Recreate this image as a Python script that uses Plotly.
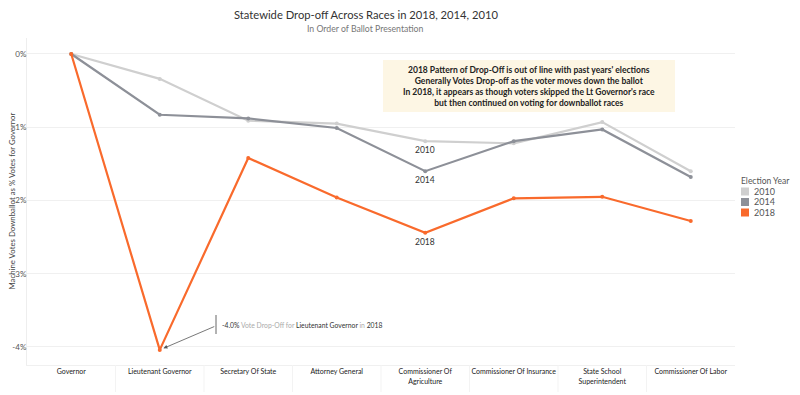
import plotly.graph_objects as go

categories = ["Governor", "Lieutenant Governor", "Secretary Of State", "Attorney General",
              "Commissioner Of<br>Agriculture", "Commissioner Of Insurance",
              "State School<br>Superintendent", "Commissioner Of Labor"]
years = ["2010", "2014", "2018"]
drop_2010 = [0.0, -0.34, -0.91, -0.95, -1.19, -1.22, -0.93, -1.60]
drop_2014 = [0.0, -0.83, -0.88, -1.01, -1.60, -1.19, -1.03, -1.68]
drop_2018 = [0.0, -4.04, -1.42, -1.96, -2.44, -1.97, -1.95, -2.28]
series = {"2010": drop_2010, "2014": drop_2014, "2018": drop_2018}
colors = {"2010": "#cfcfcf", "2014": "#8d9098", "2018": "#f96a2c"}
ytick_vals = [0, -1, -2, -3, -4]
ytick_text = ["0%", "-1%", "-2%", "-3%", "-4%"]

FONT = "Lato"
W, H = 800, 395
OFF = 8  # page offset of the figure in the browser window
# plot area in window pixels: x 27..735, y 38..365
SL, SR, ST, SB = 27, 735, 38, 365
L, T = SL - OFF, ST - OFF
R, B = W - (SR - OFF), H - (SB - OFF)
PW, PH = SR - SL, SB - ST


def px(x):
    return (x - SL) / PW


def py(y):
    return (SB - y) / PH


def note(x, y, text, size, color, xanchor="center", yanchor="middle", **kw):
    fig.add_annotation(xref="paper", yref="paper", x=px(x), y=py(y), text=text,
                       showarrow=False, xanchor=xanchor, yanchor=yanchor,
                       font=dict(size=size, color=color, family=FONT), **kw)


fig = go.Figure()
for y in years:
    fig.add_trace(go.Scatter(
        x=categories, y=series[y], mode="lines+markers", name=y,
        line=dict(color=colors[y], width=2.2), marker=dict(size=4, color=colors[y]),
        showlegend=False))

# labels on the lines at Commissioner of Agriculture
idx = 4
for y in years:
    fig.add_annotation(x=categories[idx], y=series[y][idx], text=y, showarrow=False,
                       xanchor="center", yanchor="middle", yshift=-9,
                       font=dict(size=8.5, color="#333", family=FONT))

# arrow annotation for Lt Governor
lt = series["2018"][1]
fig.add_annotation(x=categories[1], y=lt, text="", showarrow=True, arrowhead=2,
                   arrowsize=1, arrowwidth=0.8, arrowcolor="#555", ax=56, ay=-24,
                   standoff=4)
note(220, 324.5,
     ("<span style='color:#333'>-4.0%</span> "
      "<span style='color:#aaa'>Vote Drop-Off for</span> "
      "<span style='color:#333'>Lieutenant Governor</span> "
      "<span style='color:#aaa'>in</span> "
      "<span style='color:#333'>2018</span>"), 6.8, "#333", xanchor="left")
fig.add_shape(type="line", xref="paper", yref="paper",
              x0=px(216), x1=px(216), y0=py(315), y1=py(334),
              line=dict(color="#666", width=1))

# commentary box
fig.add_shape(type="rect", xref="paper", yref="paper",
              x0=px(383), x1=px(675), y0=py(112), y1=py(60),
              fillcolor="#fdf6e4", line=dict(width=0), layer="below")
note(529, 86,
     ("<b>2018 Pattern of Drop-Off is out of line with past years' elections<br>"
      "Generally Votes Drop-off as the voter moves down the ballot<br>"
      "In 2018, it appears as though voters skipped the Lt Governor's race<br>"
      "but then continued on voting for downballot races</b>"), 8.5, "#222", align="center")

# title and subtitle
note(365.5, 15, "Statewide Drop-off Across Races in 2018, 2014, 2010", 11.2, "#333")
note(365, 28, "In Order of Ballot Presentation", 8.7, "#777")

# y-axis title
note(OFF + 3.5, 201, "Machine Votes Downballot as % Votes for Governor", 7.8, "#444",
     textangle=-90)

# legend
note(739, 181, "Election Year", 8.5, "#555", xanchor="left")
for i, y in enumerate(years):
    cy = 191.5 + i * 10.5
    fig.add_shape(type="rect", xref="paper", yref="paper",
                  x0=px(741), x1=px(749), y0=py(cy + 4), y1=py(cy - 4),
                  fillcolor=colors[y], line=dict(width=0))
    note(751.5, cy, y, 9, "#555", xanchor="left")

# faint header dividers between category labels
for k in range(1, len(categories)):
    xd = px(SL + k * PW / len(categories))
    fig.add_shape(type="line", xref="paper", yref="paper", x0=xd, x1=xd,
                  y0=py(392), y1=py(365), line=dict(color="#f3f3f3", width=1))

fig.update_layout(
    width=W, height=H,
    margin=dict(l=L, r=R, t=T, b=B),
    paper_bgcolor="white", plot_bgcolor="white",
    font=dict(family=FONT, color="#555"),
    showlegend=False,
    xaxis=dict(type="category", range=[-0.5, 7.5], showgrid=False,
               showline=True, linecolor="#f0f0f0", linewidth=1, automargin=False,
               ticks="", tickfont=dict(size=7, color="#222"), fixedrange=True),
    yaxis=dict(range=[-4.246, 0.218], tickvals=ytick_vals, ticktext=ytick_text,
               showgrid=True, gridcolor="#f0f0f0", zeroline=False, automargin=False,
               showline=True, linecolor="#eeeeee", linewidth=1, ticklabelstandoff=-2,
               tickfont=dict(size=8, color="#555"), ticks=""),
)
fig.write_html("out.html")
